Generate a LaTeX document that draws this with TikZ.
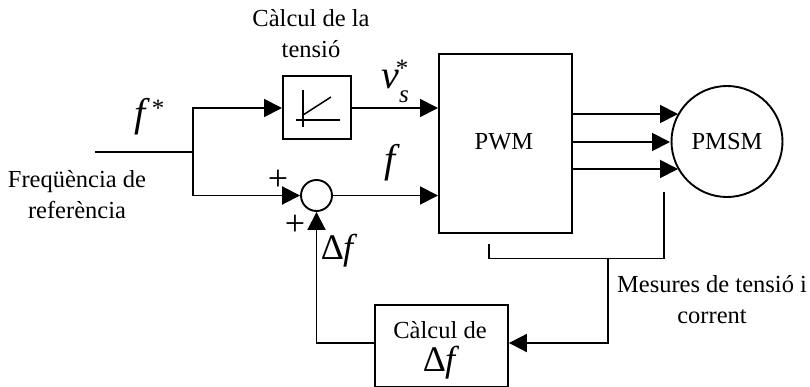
\documentclass[tikz,border=0pt]{standalone}
\usepackage{fontspec}
\setmainfont{Liberation Serif}
\usetikzlibrary{arrows.meta}
\tikzset{
  x=1pt,y=-1pt,
  wire/.style={line width=1.9pt,line cap=butt},
  arr/.style={wire,-{Triangle[length=18pt,width=18pt]}},
  box/.style={draw,line width=1.9pt,inner sep=0pt,anchor=north west,fill=none},
  txt/.style={font=\fontsize{24.5}{31}\selectfont,align=center,inner sep=0pt},
  mth/.style={font=\fontsize{40}{42}\selectfont\itshape,inner sep=0pt},
  sub/.style={font=\fontsize{25}{27}\selectfont\itshape,inner sep=0pt},
  star/.style={font=\fontsize{25}{27}\selectfont,inner sep=0pt},
  sym/.style={font=\fontsize{36}{38}\selectfont,inner sep=0pt},
  pls/.style={font=\fontsize{36}{38}\selectfont,inner sep=0pt},
}
\begin{document}
\begin{tikzpicture}
\useasboundingbox (0,0) rectangle (810,387);
% blocks
\node[box,minimum width=68pt,minimum height=63pt] (tens) at (282,75) {};
\node[box,minimum width=133pt,minimum height=179pt] (pwm) at (438,53) {};
\node[draw,circle,line width=1.9pt,minimum size=111pt,inner sep=0pt] (pmsm) at (727,141.5) {};
\node[draw,circle,line width=1.9pt,minimum size=31pt,inner sep=0pt] (sum) at (316.5,195.5) {};
\node[box,minimum width=133pt,minimum height=81.5pt] (df) at (374,304) {};
% coordinates
\coordinate (in) at (95,152);
\coordinate (j) at (193,152);
\coordinate (j1) at (193,108);
\coordinate (j2) at (193,195.5);
\coordinate (m1) at (678,114);
\coordinate (m2) at (670,142);
\coordinate (m3) at (678,169);
\coordinate (p1) at (571,114);
\coordinate (p2) at (571,142);
\coordinate (p3) at (571,169);
\coordinate (a) at (489,244);
\coordinate (b) at (489,258.5);
\coordinate (c) at (664,258.5);
\coordinate (d) at (664,192);
\coordinate (e) at (608,258.5);
\coordinate (f) at (608,343);
\coordinate (g) at (316.5,343);
% wires
\draw[wire] (in) -- (j);
\draw[arr] (j) -- (j1) -- (tens.west |- j1);
\draw[arr] (j) -- (j2) -- (sum.west);
\draw[arr] (tens.east |- j1) -- (pwm.west |- j1);
\draw[arr] (sum.east) -- (pwm.west |- sum);
\draw[arr] (p1) -- (m1);
\draw[arr] (p2) -- (m2);
\draw[arr] (p3) -- (m3);
\draw[wire] (a) -- (b) -- (c) -- (d);
\draw[arr] (e) -- (f) -- (df.east |- f);
\draw[arr] (df.west |- g) -- (g) -- (sum.south);
% glyph in the block
\draw[wire,line width=1.5pt] (303,90) -- (303,127);
\draw[wire,line width=1.5pt] (296,120) -- (340,120);
\draw[wire,line width=1.5pt] (303,115) -- (331,97);
% labels
\node[txt] (t1) at (311,34) {Càlcul de la\\tensió};
\node[mth] (fs) at (140,117) {f};
\node[star] (fsa) at (158,108) {*};
\node[mth] (v) at (390,80) {v};
\node[star] (va) at (402,68) {*};
\node[sub] (vs) at (404,97) {s};
\node[mth] (ff) at (390,163) {f};
\node[txt] (pw) at (504,142) {PWM};
\node[txt] (pm) at (727,142) {PMSM};
\node[txt] (fr) at (77,194.5) {Freqüència de\\referència};
\node[pls] (pl1) at (278,180) {+};
\node[pls] (pl2) at (295,225) {+};
\node[sym] (dl) at (339,251) {Δ\kern-1pt\textit{f}};
\node[txt] (mes) at (712,299.5) {Mesures de tensió i\\corrent};
\node[txt] (cd) at (440,330) {Càlcul de};
\node[sym] (cd2) at (441,363) {Δ\kern-1pt\textit{f}};
\end{tikzpicture}
\end{document}
